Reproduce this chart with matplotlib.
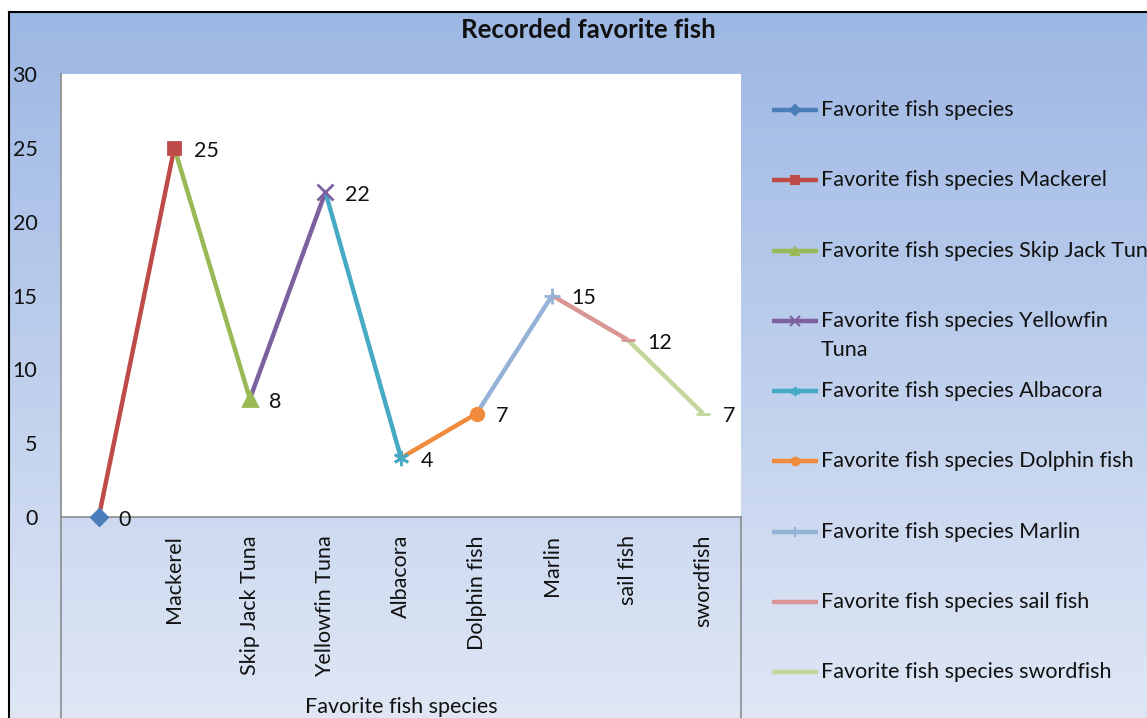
import matplotlib.pyplot as plt
import numpy as np
from matplotlib.lines import Line2D

plt.rcParams['font.family'] = ['Lato', 'DejaVu Sans']

categories = ['', 'Mackerel', 'Skip Jack Tuna', 'Yellowfin Tuna', 'Albacora',
              'Dolphin fish', 'Marlin', 'sail fish', 'swordfish']
values = [0, 25, 8, 22, 4, 7, 15, 12, 7]
series_names = ['Favorite fish species', 'Favorite fish species Mackerel',
                'Favorite fish species Skip Jack Tuna',
                'Favorite fish species Yellowfin\nTuna',
                'Favorite fish species Albacora',
                'Favorite fish species Dolphin fish',
                'Favorite fish species Marlin',
                'Favorite fish species sail fish',
                'Favorite fish species swordfish']
colors = ['#4a7ebb', '#be4b48', '#98b954', '#7d60a0', '#46aac5',
          '#f08a3c', '#95b3d7', '#d99694', '#c3d69b']
markers = ['D', 's', '^', 'x', (6, 2, 0), 'o', '+', '_', '_']
msizes = [8, 9, 10, 11, 11, 9, 11, 10, 10]

FS = 15.5
TXT = '#111111'
W, H = 1147, 718
fig = plt.figure(figsize=(W / 100, H / 100), dpi=100)

# gradient background with black border (chart area)
bg = fig.add_axes([9 / W, 0, 1 - 9 / W, (H - 12) / H])
grad = np.linspace(0, 1, 256).reshape(-1, 1)
top = np.array([0x9d, 0xb7, 0xe4]) / 255
bot = np.array([0xdf, 0xe7, 0xf5]) / 255
img = top + grad[:, :, None] * (bot - top)
bg.imshow(img, aspect='auto', extent=[0, 1, 0, 1], origin='upper')
bg.set_xticks([])
bg.set_yticks([])
for s in ['right', 'bottom']:
    bg.spines[s].set_visible(False)
for s in ['left', 'top']:
    bg.spines[s].set_color('black')
    bg.spines[s].set_linewidth(1.5)

# plot area
x0, x1, y0, y1 = 61, 741, 74, 517
ax = fig.add_axes([x0 / W, (H - y1) / H, (x1 - x0) / W, (y1 - y0) / H])
ax.set_facecolor('white')
ax.set_xlim(0, 9)
ax.set_ylim(0, 30)
for s in ['top', 'right']:
    ax.spines[s].set_visible(False)
for s in ['left', 'bottom']:
    ax.spines[s].set_color('#8c8c8c')
    ax.spines[s].set_linewidth(1.2)
ax.tick_params(length=0, labelsize=FS, colors=TXT)
ax.set_yticks(range(0, 31, 5))
ax.tick_params(axis='y', pad=17)
xs = np.arange(len(categories)) + 0.5
ax.set_xticks(xs)
ax.set_xticklabels(categories, rotation=90, va='top', ha='center')
ax.tick_params(axis='x', pad=13)

# plot area outline continuing below the axis
ext = -(H - y1) / (y1 - y0)
for xa in [0, 1]:
    ax.plot([xa, xa], [0, ext], transform=ax.transAxes, clip_on=False,
            color='#8c8c8c', lw=1.2)

ax.text(0.5, -(707 - y1) / (y1 - y0), 'Favorite fish species', transform=ax.transAxes,
        ha='center', va='center', fontsize=FS, color=TXT)

# each series is one segment from previous category to this one
for i in range(len(categories)):
    if i == 0:
        sx, sy = [xs[0]], [values[0]]
    else:
        sx, sy = [xs[i - 1], xs[i]], [values[i - 1], values[i]]
    ax.plot(sx, sy, color=colors[i], lw=3.2, solid_capstyle='butt', zorder=3)
    ax.plot([xs[i]], [values[i]], marker=markers[i], color=colors[i],
            markersize=msizes[i], mew=2, linestyle='none', zorder=4, clip_on=False)
    ax.annotate(str(values[i]), (xs[i], values[i]), xytext=(14, -2),
                textcoords='offset points', ha='left', va='center',
                fontsize=FS, color=TXT, annotation_clip=False)

fig.text(588 / W, 1 - 30 / H, 'Recorded favorite fish', ha='center', va='center',
         fontsize=18.5, fontweight='bold', color=TXT)

# legend drawn entry by entry (equal row spacing like the original)
for i, name in enumerate(series_names):
    yc = 110 + i * 70.3
    yf = 1 - yc / H
    fig.add_artist(Line2D([772 / W, 818 / W], [yf, yf], color=colors[i], lw=3.2,
                          solid_capstyle='butt'))
    if markers[i] != '_':
        fig.add_artist(Line2D([795 / W], [yf], marker=markers[i], color=colors[i],
                              markersize=msizes[i] * 0.6, mew=1.5))
    lines = name.split('\n')
    for k, part in enumerate(lines):
        fig.text(821 / W, 1 - (yc + 29 * k) / H, part, ha='left', va='center',
                 fontsize=FS, color=TXT)

fig.savefig('out.png', dpi=100)
